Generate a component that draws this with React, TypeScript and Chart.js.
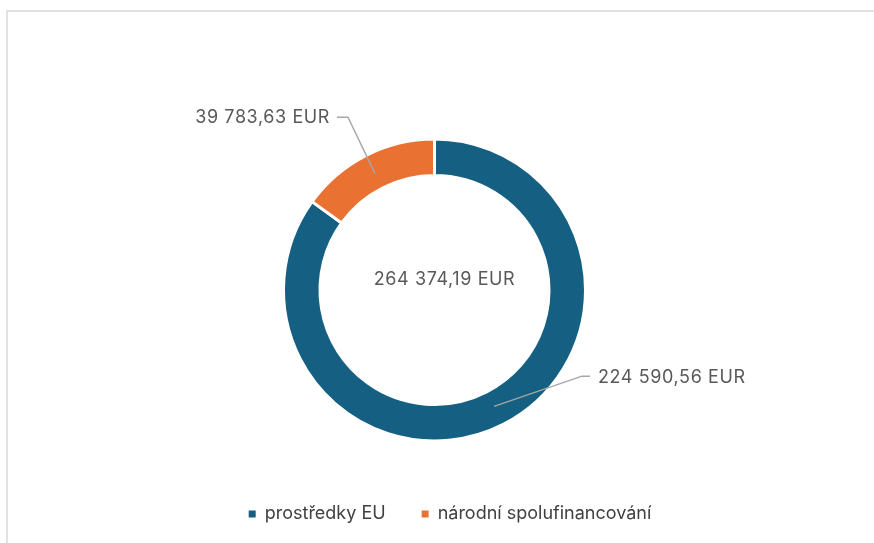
import React, { useEffect, useRef } from "react";
import { Chart, registerables } from "chart.js";

Chart.register(...registerables);

// ---- data ----
const categories: string[] = ["prostředky EU", "národní spolufinancování"];
const values: number[] = [224590.56, 39783.63];
const colors: string[] = ["#156082", "#E97132"];
const currency = "EUR";

const FONT = "Inter";

function fmt(v: number): string {
  const [i, d] = v.toFixed(2).split(".");
  const grouped = i.replace(/\B(?=(\d{3})+(?!\d))/g, " ");
  return `${grouped},${d} ${currency}`;
}

// leader-line geometry relative to the doughnut centre (per slice)
const leaderLayout = [
  { elbow: [147.5, 86.2], end: [155.5, 86.2], text: [163.5, 87.2], align: "left" as CanvasTextAlign },
  { elbow: [-86.5, -172.8], end: [-97.5, -172.8], text: [-104.5, -172.3], align: "right" as CanvasTextAlign },
];

const framePlugin = {
  id: "frame",
  beforeDraw(chart: any) {
    const ctx = chart.ctx as CanvasRenderingContext2D;
    ctx.save();
    ctx.fillStyle = "#ffffff";
    ctx.fillRect(0, 0, chart.width, chart.height);
    ctx.strokeStyle = "#d9d9d9";
    ctx.lineWidth = 1.5;
    ctx.beginPath();
    ctx.moveTo(7, chart.height);
    ctx.lineTo(7, 11);
    ctx.lineTo(chart.width, 11);
    ctx.stroke();
    ctx.restore();
  },
};

function setText(ctx: CanvasRenderingContext2D) {
  ctx.fillStyle = "#595959";
  ctx.font = `18px ${FONT}`;
  (ctx as any).letterSpacing = "0.6px";
  ctx.textBaseline = "middle";
}

const labelPlugin = {
  id: "sliceLabels",
  afterDatasetsDraw(chart: any) {
    const ctx = chart.ctx as CanvasRenderingContext2D;
    const meta = chart.getDatasetMeta(0);
    const data = chart.data.datasets[0].data as number[];
    const total = data.reduce((a, b) => a + b, 0);
    ctx.save();
    meta.data.forEach((arc: any, i: number) => {
      const p = arc.getProps(["x", "y", "startAngle", "endAngle", "innerRadius", "outerRadius"], true);
      const mid = (p.startAngle + p.endAngle) / 2;
      const rr = (p.innerRadius + p.outerRadius) / 2 - 2;
      const ax = p.x + Math.cos(mid) * rr;
      const ay = p.y + Math.sin(mid) * rr;
      const L = leaderLayout[i];
      ctx.strokeStyle = "#a6a6a6";
      ctx.lineWidth = 1.4;
      ctx.beginPath();
      ctx.moveTo(ax, ay);
      ctx.lineTo(p.x + L.elbow[0], p.y + L.elbow[1]);
      ctx.lineTo(p.x + L.end[0], p.y + L.end[1]);
      ctx.stroke();
      setText(ctx);
      ctx.textAlign = L.align;
      ctx.fillText(fmt(data[i]), p.x + L.text[0], p.y + L.text[1]);
    });
    const c = meta.data[0];
    setText(ctx);
    ctx.textAlign = "center";
    ctx.fillText(fmt(total), c.x + 10, c.y - 10);
    ctx.restore();
  },
};

export default function App() {
  const ref = useRef<HTMLCanvasElement | null>(null);
  useEffect(() => {
    if (!ref.current) return;
    const baseGen = (Chart as any).overrides.doughnut.plugins.legend.labels.generateLabels;
    const chart = new Chart(ref.current, {
      type: "doughnut",
      data: {
        labels: categories,
        datasets: [
          {
            data: values,
            backgroundColor: colors,
            borderColor: "#ffffff",
            borderWidth: 3,
            radius: 151,
            cutout: "75.83%",
          } as any,
        ],
      },
      options: {
        responsive: false,
        animation: false,
        events: [],
        layout: { padding: { left: 26, right: 0, top: 111, bottom: 10 } },
        plugins: {
          tooltip: { enabled: false },
          title: {
            display: true,
            position: "right",
            text: " ",
            padding: 0,
            font: { size: 10, lineHeight: 3.1 },
          },
          legend: {
            position: "bottom",
            labels: {
              boxWidth: 7,
              boxHeight: 7,
              padding: 36,
              color: "#404040",
              font: { family: FONT, size: 18 },
              generateLabels: (ch: any) =>
                baseGen(ch).map((it: any) => ({ ...it, lineWidth: 0, strokeStyle: "rgba(0,0,0,0)" })),
            },
          },
        },
      } as any,
      plugins: [framePlugin, labelPlugin],
    });
    return () => chart.destroy();
  }, []);
  return (
    <div style={{ position: "absolute", left: 0, top: 0, width: 874, height: 543 }}>
      <canvas ref={ref} width={874} height={543} style={{ display: "block", width: 874, height: 543 }} />
    </div>
  );
}
